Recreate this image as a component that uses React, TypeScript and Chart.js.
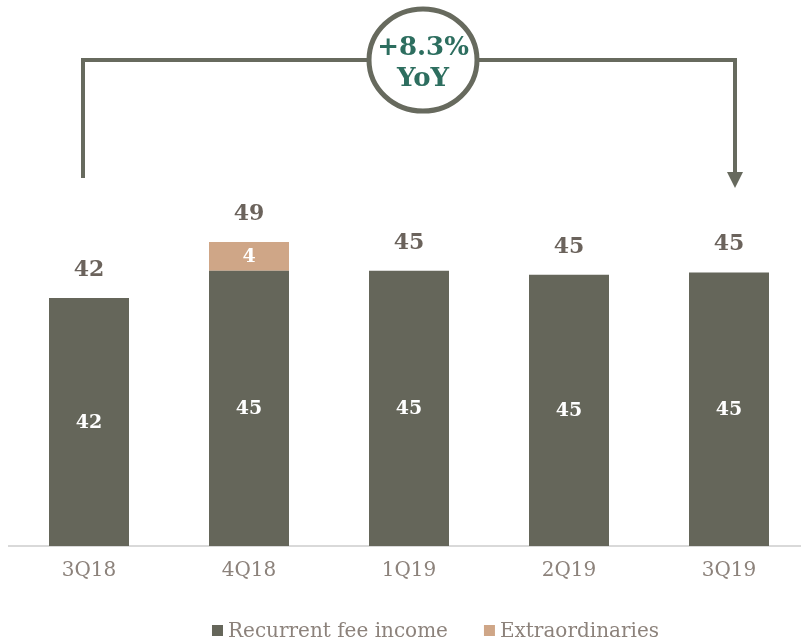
import React, { useEffect, useRef } from "react";
import { Chart, registerables } from "chart.js";

Chart.register(...registerables);

const categories = ["3Q18", "4Q18", "1Q19", "2Q19", "3Q19"];
const recurrentFeeIncome = [42, 45.4, 45.4, 44.9, 45.2];
const extraordinaries: (number | null)[] = [null, 3.6, null, null, null];
const seriesNames = ["Recurrent fee income", "Extraordinaries"];
const growthLabel = ["+8.3%", "YoY"];

const COLOR_REC = "#65665a";
const COLOR_EXT = "#cfa687";
const COLOR_TEXT = "#8c827b";
const COLOR_TOTAL = "#6b635c";
const COLOR_LINE = "#676a5e";
const COLOR_GREEN = "#2d6e5f";
const FONT = "'DejaVu Serif', serif";

const labelsPlugin = {
  id: "customLabels",
  afterDatasetsDraw(chart: any) {
    const ctx = chart.ctx;
    const yScale = chart.scales.y;
    const bottom = chart.chartArea.bottom;
    ctx.save();
    ctx.textAlign = "center";
    ctx.textBaseline = "middle";
    // inside labels
    chart.data.datasets.forEach((ds: any, di: number) => {
      const meta = chart.getDatasetMeta(di);
      meta.data.forEach((el: any, i: number) => {
        const v = ds.data[i];
        if (v == null) return;
        const base = Math.min(el.base, bottom);
        ctx.fillStyle = "#ffffff";
        ctx.font = `bold 19px ${FONT}`;
        ctx.fillText(String(Math.round(v)), el.x, (el.y + base) / 2 + 1);
      });
    });
    // totals
    const meta0 = chart.getDatasetMeta(0);
    meta0.data.forEach((el: any, i: number) => {
      let total = 0;
      chart.data.datasets.forEach((ds: any) => {
        const v = ds.data[i];
        if (v != null) total += v;
      });
      const y = yScale.getPixelForValue(total);
      ctx.fillStyle = COLOR_TOTAL;
      ctx.font = `bold 22px ${FONT}`;
      ctx.fillText(String(Math.round(total)), el.x, y - 28);
    });
    ctx.restore();
  },
  afterDraw(chart: any) {
    const ctx = chart.ctx;
    const xScale = chart.scales.x;
    const x0 = xScale.getPixelForValue(0) - 6;
    const x4 = xScale.getPixelForValue(categories.length - 1) + 6;
    const yTop = 60;
    ctx.save();
    // bracket
    ctx.strokeStyle = COLOR_LINE;
    ctx.lineWidth = 4;
    ctx.lineCap = "butt";
    ctx.beginPath();
    ctx.moveTo(x0, 178);
    ctx.lineTo(x0, yTop);
    ctx.lineTo(x4, yTop);
    ctx.lineTo(x4, 174);
    ctx.stroke();
    ctx.fillStyle = COLOR_LINE;
    ctx.beginPath();
    ctx.moveTo(x4 - 8, 172);
    ctx.lineTo(x4 + 8, 172);
    ctx.lineTo(x4, 188);
    ctx.closePath();
    ctx.fill();
    // bubble
    const cx = (x0 + x4) / 2 + 14;
    ctx.beginPath();
    ctx.ellipse(cx, 60, 54, 51, 0, 0, Math.PI * 2);
    ctx.fillStyle = "#ffffff";
    ctx.fill();
    ctx.lineWidth = 5;
    ctx.strokeStyle = COLOR_LINE;
    ctx.stroke();
    ctx.fillStyle = COLOR_GREEN;
    ctx.font = `bold 26px ${FONT}`;
    ctx.textAlign = "center";
    ctx.textBaseline = "middle";
    ctx.fillText(growthLabel[0], cx, 48);
    ctx.fillText(growthLabel[1], cx, 79);
    // legend
    ctx.font = `20px ${FONT}`;
    const w1 = ctx.measureText(seriesNames[0]).width;
    const w2 = ctx.measureText(seriesNames[1]).width;
    const box = 11;
    const gapBox = 5;
    const gapItem = 36;
    const total = box + gapBox + w1 + gapItem + box + gapBox + w2;
    let lx = 435.5 - total / 2;
    const colors = [COLOR_REC, COLOR_EXT];
    const widths = [w1, w2];
    ctx.textAlign = "left";
    ctx.textBaseline = "alphabetic";
    for (let i = 0; i < 2; i++) {
      ctx.fillStyle = colors[i];
      ctx.fillRect(lx, 625, box, box);
      lx += box + gapBox;
      ctx.fillStyle = COLOR_TEXT;
      ctx.fillText(seriesNames[i], lx, 637);
      lx += widths[i] + gapItem;
    }
    ctx.restore();
  },
};

export default function App() {
  const canvasRef = useRef<HTMLCanvasElement | null>(null);

  useEffect(() => {
    if (!canvasRef.current) return;
    const chart = new Chart(canvasRef.current, {
      type: "bar",
      data: {
        labels: categories,
        datasets: [
          {
            label: seriesNames[0],
            data: recurrentFeeIncome,
            backgroundColor: COLOR_REC,
            borderWidth: 0,
            barPercentage: 0.5,
            categoryPercentage: 1,
          },
          {
            label: seriesNames[1],
            data: extraordinaries,
            backgroundColor: COLOR_EXT,
            borderWidth: 0,
            barPercentage: 0.5,
            categoryPercentage: 1,
          },
        ],
      },
      options: {
        responsive: false,
        animation: false,
        devicePixelRatio: 1,
        layout: { padding: { left: 9, right: 11, top: 100, bottom: 46 } },
        plugins: {
          legend: { display: false },
          tooltip: { enabled: false },
        },
        scales: {
          x: {
            stacked: true,
            grid: { display: false, drawTicks: false },
            border: { display: true, color: "#d9d9d9", width: 2 },
            ticks: {
              color: COLOR_TEXT,
              font: { family: FONT, size: 20 },
              padding: 13,
            },
          },
          y: {
            stacked: true,
            display: false,
            min: 11,
            max: 66.75,
          },
        },
      },
      plugins: [labelsPlugin],
    });
    return () => chart.destroy();
  }, []);

  return (
    <div
      style={{
        position: "fixed",
        left: 0,
        top: 0,
        width: 801,
        height: 642,
        overflow: "hidden",
        background: "#ffffff",
      }}
    >
      <canvas ref={canvasRef} width={820} height={642} style={{ display: "block" }} />
    </div>
  );
}
